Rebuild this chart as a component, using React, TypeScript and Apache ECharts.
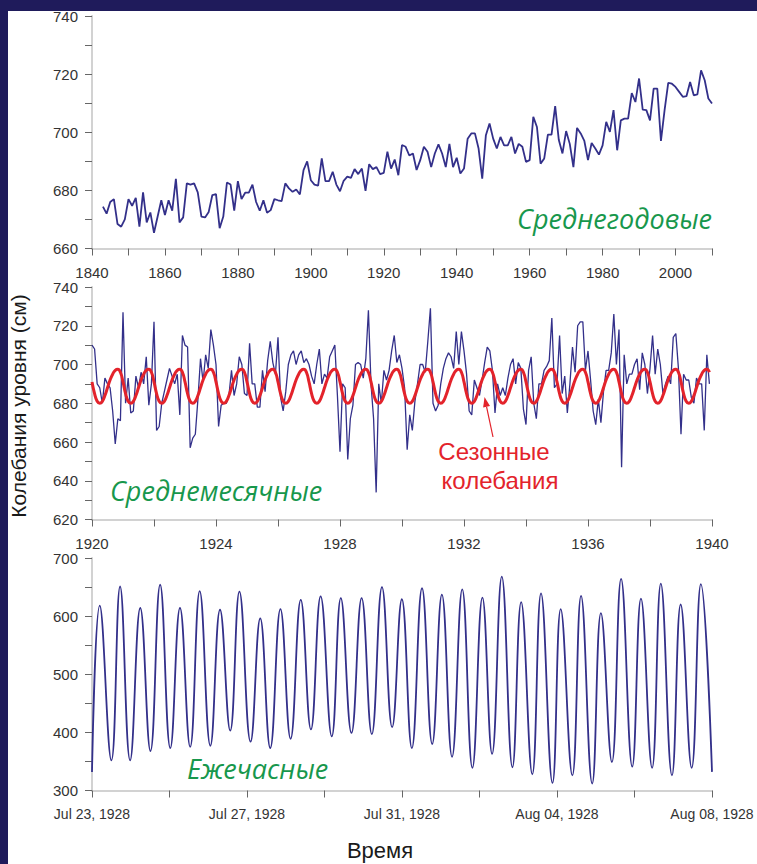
import React, { useEffect, useRef } from "react";
import * as echarts from "echarts";

// ---- Annual means (1843..2010) ----
const annualStartYear = 1843;
const annualLevel = [
  674.4, 672, 676, 677, 668.4, 667.5, 670,
  677, 674.7, 677.4, 667.5, 679.3, 669, 672.4, 665.4, 671, 676.6,
  671.5, 676.6, 673, 684, 669, 670.7, 682.4, 682, 682.4, 679.3,
  671, 670.7, 672.6, 678.4, 678.7, 667, 671, 682.7, 682, 673,
  683.2, 677, 679.2, 679.2, 682, 676, 673, 676.6, 672.3, 673.2,
  677, 676.6, 676.3, 682.4, 680.7, 679.5, 680.3, 678.6, 687, 690,
  683.5, 682, 681.6, 691, 683.2, 683.2, 686.4, 682, 679.7, 683.3,
  684.7, 684.3, 687.3, 685.6, 687.5, 679.8, 689, 687.3, 688, 685.6,
  686, 693.3, 687.5, 690.6, 685.2, 695.6, 695, 692, 692.7, 687,
  690.4, 695, 693.3, 688, 692.7, 695.8, 692.7, 688, 696, 688,
  691.2, 685.8, 687.5, 697.8, 699.6, 699.6, 694.4, 684, 699, 703,
  697.8, 694.4, 698.4, 695.5, 695.5, 698.4, 692.7, 696, 695, 689.8,
  690.4, 705.3, 701.8, 689.2, 691, 699.2, 699.2, 709, 697.3, 692.7,
  700.4, 696, 688, 701.5, 699.6, 697, 690.4, 696.3, 694.4, 692.3,
  695.5, 703.6, 700.1, 707.6, 693.8, 704.1, 704.7, 704.7, 713.5, 710.4,
  718.5, 707.8, 707.6, 704.1, 715, 715, 697, 707.6, 717, 716.7,
  715.6, 713.9, 712.2, 712.4, 717.3, 712.7, 713, 721.3, 717.9, 711.6, 709.9,
];

// ---- Monthly means (Jan 1920 .. Dec 1939) ----
const monthlyStartYear = 1920;
const monthlyLevel = [
  710, 708, 690, 688, 680, 693, 690, 688, 676, 659, 672, 671,
  727, 680, 693, 675, 676, 694, 688, 696, 690, 704, 679, 690,
  722, 666, 668, 680, 686, 692, 698, 694, 690, 695, 674, 715,
  710, 709, 657, 662, 664, 682, 703, 691, 705, 698, 718, 710,
  700, 668, 679, 680, 680, 684, 697, 684, 690, 704, 700, 685,
  684, 711, 690, 690, 678, 678, 697, 686, 702, 712, 701, 695,
  714, 683, 676, 686, 700, 705, 707, 700, 705, 707, 701, 703,
  700, 694, 690, 700, 708, 690, 695, 693, 704, 707, 710, 684,
  655, 690, 688, 651, 672, 679, 700, 701, 700, 693, 703, 728,
  690, 672, 634, 690, 680, 697, 692, 697, 707, 715, 701, 705,
  698, 688, 656, 674, 666, 681, 690, 700, 700, 696, 712, 729,
  680, 676, 679, 690, 698, 703, 706, 704, 698, 717, 700, 717,
  707, 695, 676, 674, 692, 688, 684, 692, 701, 709, 707, 697,
  675, 690, 684, 688, 684, 693, 700, 703, 690, 701, 698, 677,
  669, 697, 704, 680, 672, 690, 690, 697, 699, 702, 724, 688,
  690, 715, 685, 694, 675, 690, 709, 696, 720, 722, 722, 697,
  707, 692, 676, 669, 682, 670, 686, 697, 697, 706, 726, 700,
  718, 647, 705, 690, 695, 695, 700, 703, 687, 706, 700, 685,
  698, 715, 695, 708, 700, 685, 690, 694, 690, 714, 716, 698,
  664, 695, 692, 692, 683, 680, 693, 690, 690, 666, 705, 690,
];

// Seasonal cycle (Jan..Dec), repeated every year
const seasonalCycle = [691, 685, 681, 680, 681, 684, 688, 692, 695, 697, 697.5, 696];

// ---- Hourly extremes (hours since Jul 23, 1928 00:00) ----
const tideHours = [
  0, 4.8, 12.0, 17.4, 23.6, 29.9, 36.2, 42.2, 48.5, 54.5, 60.8, 66.7, 73.3, 79.3, 85.6, 91.3,
  98.2, 104.2, 110.4, 116.7, 123.0, 129.3, 135.6, 141.6, 148.5, 154.1, 160.7, 167.0, 173.3,
  179.6, 185.9, 191.9, 198.1, 204.4, 210.7, 216.7, 223.0, 229.3, 235.6, 241.8, 247.8, 253.8,
  260.4, 265.8, 272.7, 278.1, 285.2, 290.3, 297.5, 302.9, 309.8, 315.2, 322.0, 327.7, 334.6,
  340.0, 346.9, 352.3, 359.2, 364.6, 371.4, 377.1, 384,
];
const tideLevel = [
  332, 618, 352, 651, 352, 614, 368, 654, 373, 614, 375, 643, 377, 611, 403, 642,
  384, 596, 373, 612, 389, 628, 405, 634, 393, 631, 399, 631, 397,
  650, 409, 629, 373, 648, 380, 637, 358, 646, 339, 632, 363, 668,
  340, 624, 328, 639, 313, 612, 326, 635, 312, 605, 349, 664, 341,
  630, 339, 656, 326, 620, 339, 655, 332,
];

const monthNames = ["Jan", "Feb", "Mar", "Apr", "May", "Jun", "Jul", "Aug", "Sep", "Oct", "Nov", "Dec"];
const tideStart = Date.UTC(1928, 6, 23);

const BLUE = "#33308a";
const RED = "#e3232b";
const GREEN = "#17974c";
const NAVY = "#1f1b5b";

export default function App() {
  const ref = useRef<HTMLDivElement>(null);

  useEffect(() => {
    if (!ref.current) return;
    const chart = echarts.init(ref.current, undefined, { renderer: "svg" });

    const labelStyle = { color: "#333", fontFamily: "Liberation Sans, Arial, sans-serif", fontSize: 15 };
    const axisLine = { show: true, lineStyle: { color: "#d2d2d2", width: 2 } };
    const axisTick = { show: true, length: 7, lineStyle: { color: "#666", width: 1 } };

    const grids = [
      { left: 92, top: 16, width: 620, height: 232.5 },
      { left: 92, top: 287, width: 620, height: 232.5 },
      { left: 92, top: 558, width: 620, height: 232.5 },
    ];

    const fmtDate = (h: number) => {
      const d = new Date(tideStart + h * 3600000);
      return `${monthNames[d.getUTCMonth()]} ${String(d.getUTCDate()).padStart(2, "0")}, ${d.getUTCFullYear()}`;
    };

    const xAxes = [
      {
        type: "value", gridIndex: 0, min: 1840, max: 2010, interval: 10,
        axisLine, axisTick, splitLine: { show: false },
        axisLabel: { ...labelStyle, margin: 16, showMaxLabel: true, formatter: (v: number) => (v % 20 === 0 ? String(v) : "") },
      },
      {
        type: "value", gridIndex: 1, min: 1920, max: 1940, interval: 2,
        axisLine, axisTick, splitLine: { show: false },
        axisLabel: { ...labelStyle, margin: 16, showMaxLabel: true, formatter: (v: number) => (v % 4 === 0 ? String(v) : "") },
      },
      {
        type: "value", gridIndex: 2, min: 0, max: 384, interval: 48,
        axisLine, axisTick, splitLine: { show: false },
        axisLabel: { ...labelStyle, fontSize: 14, margin: 16, showMinLabel: true, showMaxLabel: true, formatter: (v: number) => (v % 96 === 0 ? fmtDate(v) : "") },
      },
    ];

    const yAxes = [
      {
        type: "value", gridIndex: 0, min: 660, max: 740, interval: 10,
        axisLine, axisTick, splitLine: { show: false },
        axisLabel: { ...labelStyle, margin: 14, formatter: (v: number) => (v % 20 === 0 ? String(v) : "") },
      },
      {
        type: "value", gridIndex: 1, min: 620, max: 740, interval: 10,
        axisLine, axisTick, splitLine: { show: false },
        axisLabel: { ...labelStyle, margin: 14, formatter: (v: number) => (v % 20 === 0 ? String(v) : "") },
      },
      {
        type: "value", gridIndex: 2, min: 300, max: 700, interval: 50,
        axisLine, axisTick, splitLine: { show: false },
        axisLabel: { ...labelStyle, margin: 14, formatter: (v: number) => (v % 100 === 0 ? String(v) : "") },
      },
    ];

    const annualData = annualLevel.map((v, i) => [annualStartYear + i, v]);
    const monthlyData = monthlyLevel.map((v, i) => [monthlyStartYear + i / 12, v]);
    const seasonalData = monthlyLevel.map((_, i) => [monthlyStartYear + i / 12, seasonalCycle[i % 12]]);
    const tideData = tideLevel.map((v, i) => [tideHours[i], v]);

    const handFont = "Open Sans, Lato, sans-serif";
    const redFont = "Liberation Sans, Arial, sans-serif";

    // arrow geometry (annotation)
    const tip = [484.5, 397];
    const tail = [493, 437];
    const dx = tip[0] - tail[0], dy = tip[1] - tail[1];
    const len = Math.hypot(dx, dy);
    const ux = dx / len, uy = dy / len;
    const px = -uy, py = ux;
    const bx = tip[0] - 10 * ux, by = tip[1] - 10 * uy;

    chart.setOption({
      animation: false,
      backgroundColor: "#ffffff",
      grid: grids,
      xAxis: xAxes,
      yAxis: yAxes,
      series: [
        {
          type: "line", xAxisIndex: 0, yAxisIndex: 0, data: annualData, showSymbol: false,
          lineStyle: { color: BLUE, width: 1.8 }, z: 2,
        },
        {
          type: "line", xAxisIndex: 1, yAxisIndex: 1, data: monthlyData, showSymbol: false,
          lineStyle: { color: BLUE, width: 1.3 }, z: 2,
        },
        {
          type: "line", xAxisIndex: 1, yAxisIndex: 1, data: seasonalData, showSymbol: false, smooth: 0.5,
          lineStyle: { color: RED, width: 3 }, z: 3,
        },
        {
          type: "line", xAxisIndex: 2, yAxisIndex: 2, data: tideData, showSymbol: false, smooth: 0.45,
          lineStyle: { color: BLUE, width: 1.8 }, z: 2,
        },
      ],
      graphic: [
        { type: "rect", z: 100, shape: { x: 0, y: 0, width: 757, height: 11 }, style: { fill: NAVY } },
        { type: "rect", z: 100, shape: { x: 0, y: 0, width: 8, height: 864 }, style: { fill: NAVY } },
        {
          type: "text", z: 50, x: 712, y: 218,
          style: { text: "Среднегодовые", fill: GREEN, font: `italic 27px ${handFont}`, textAlign: "right", textVerticalAlign: "middle", align: "right", verticalAlign: "middle" },
        },
        {
          type: "text", z: 50, x: 110, y: 490,
          style: { text: "Среднемесячные", fill: GREEN, font: `italic 27px ${handFont}`, textAlign: "left", textVerticalAlign: "middle", align: "left", verticalAlign: "middle" },
        },
        {
          type: "text", z: 50, x: 187, y: 768,
          style: { text: "Ежечасные", fill: GREEN, font: `italic 27px ${handFont}`, textAlign: "left", textVerticalAlign: "middle", align: "left", verticalAlign: "middle" },
        },
        {
          type: "text", z: 50, x: 494, y: 451,
          style: { text: "Сезонные", fill: RED, font: `24px ${redFont}`, textAlign: "center", textVerticalAlign: "middle", align: "center", verticalAlign: "middle" },
        },
        {
          type: "text", z: 50, x: 500, y: 480,
          style: { text: "колебания", fill: RED, font: `24px ${redFont}`, textAlign: "center", textVerticalAlign: "middle", align: "center", verticalAlign: "middle" },
        },
        {
          type: "line", z: 50,
          shape: { x1: tail[0], y1: tail[1], x2: bx, y2: by },
          style: { stroke: RED, lineWidth: 1.2 },
        },
        {
          type: "polygon", z: 50,
          shape: { points: [[tip[0], tip[1]], [bx + 3.5 * px, by + 3.5 * py], [bx - 3.5 * px, by - 3.5 * py]] },
          style: { fill: RED },
        },
        {
          type: "text", z: 50, x: 18, y: 406, rotation: Math.PI / 2,
          style: { text: "Колебания уровня (см)", fill: "#1a1a1a", font: `21px Liberation Sans, Arial, sans-serif`, textAlign: "center", textVerticalAlign: "middle", align: "center", verticalAlign: "middle" },
        },
        {
          type: "text", z: 50, x: 380, y: 850,
          style: { text: "Время", fill: "#1a1a1a", font: `22px Liberation Sans, Arial, sans-serif`, textAlign: "center", textVerticalAlign: "middle", align: "center", verticalAlign: "middle" },
        },
      ],
    });

    return () => chart.dispose();
  }, []);

  return (
    <div
      ref={ref}
      style={{ position: "absolute", left: 0, top: 0, width: 757, height: 864 }}
    />
  );
}
